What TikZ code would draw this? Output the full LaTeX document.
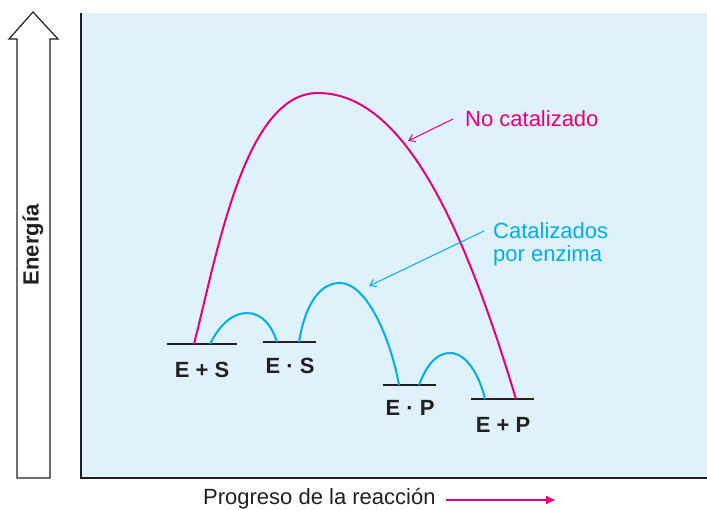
\documentclass[tikz,border=0pt]{standalone}
\usepackage{fontspec}
\setmainfont{Liberation Sans}
\usetikzlibrary{arrows.meta}
\definecolor{bgblue}{HTML}{DFF1FB}
\definecolor{mag}{HTML}{E6007E}
\definecolor{cya}{HTML}{00AEEF}
\definecolor{ink}{HTML}{231F20}
\begin{document}
\begin{tikzpicture}[x=1pt,y=-1pt,
  level/.style={draw=ink,line width=2.3pt},
  lvllabel/.style={font=\bfseries\fontsize{22}{24}\selectfont,text=ink,inner sep=0pt},
  uncat/.style={draw=mag,line width=2pt},
  cat/.style={draw=cya,line width=2pt},
  note/.style={line width=1pt,-{Straight Barb[length=6pt,width=8pt]}},
  plain/.style={font=\fontsize{22}{23}\selectfont,inner sep=0pt}]
\useasboundingbox (0,0) rectangle (707,510);
% panel
\fill[bgblue] (81,13) rectangle (707,478);
\draw[ink,line width=2pt] (81,13) -- (81,478) -- (707,478);
% energy arrow
\draw[ink,line width=1.2pt,fill=white] (17,478) -- (17,39) -- (9,39) -- (33,12) -- (58,39) -- (50,39) -- (50,478) -- cycle;
\node[font=\bfseries\fontsize{22}{24}\selectfont,text=ink,rotate=90,inner sep=0pt] (energia) at (33,245) {Energía};
% levels
\coordinate (es1a) at (167,344); \coordinate (es1b) at (237,344);
\coordinate (es2a) at (263,342); \coordinate (es2b) at (316,342);
\coordinate (ep1a) at (383,385); \coordinate (ep1b) at (436,385);
\coordinate (ep2a) at (471,399); \coordinate (ep2b) at (534,399);
\draw[level] (es1a) -- (es1b);
\draw[level] (es2a) -- (es2b);
\draw[level] (ep1a) -- (ep1b);
\draw[level] (ep2a) -- (ep2b);
\node[lvllabel] (ES) at (202,370) {E + S};
\node[lvllabel] (EdS) at (290,366) {E · S};
\node[lvllabel] (EdP) at (410,408) {E · P};
\node[lvllabel] (EP) at (503,425) {E + P};
% uncatalyzed
\draw[uncat] (194,344) .. controls (218,250) and (245,93) .. (318,93) .. controls (405,93) and (465,230) .. (516,399);
% catalyzed
\draw[cat] (210,344) .. controls (220,324) and (233,313) .. (247,313) .. controls (262,313) and (272,326) .. (277,342);
\draw[cat] (299,342) .. controls (306,300) and (322,283) .. (340,283) .. controls (366,283) and (390,336) .. (399,385);
\draw[cat] (419,385) .. controls (427,364) and (437,353) .. (450,353) .. controls (466,353) and (479,374) .. (485,399);
% annotations
\node[plain,text=mag,anchor=west] (nocat) at (465,119) {No catalizado};
\coordinate (nocattip) at (408,141);
\draw[note,mag] (nocat.west) ++(-12,0) -- (nocattip);
\node[plain,text=cya,anchor=west,align=left] (catn) at (493,244) {Catalizados\\por enzima};
\coordinate (cattip) at (369,286);
\coordinate (catstart) at (484,231);
\draw[note,cya] (catstart) -- (cattip);
% axis label
\node[plain,text=ink,anchor=west] (prog) at (203,499) {Progreso de la reacción};
\coordinate (progend) at (555,500);
\draw[mag,line width=2.5pt,-{Triangle[length=9pt,width=8pt]}] (prog.east) ++(10,1) -- (progend);
\end{tikzpicture}
\end{document}
